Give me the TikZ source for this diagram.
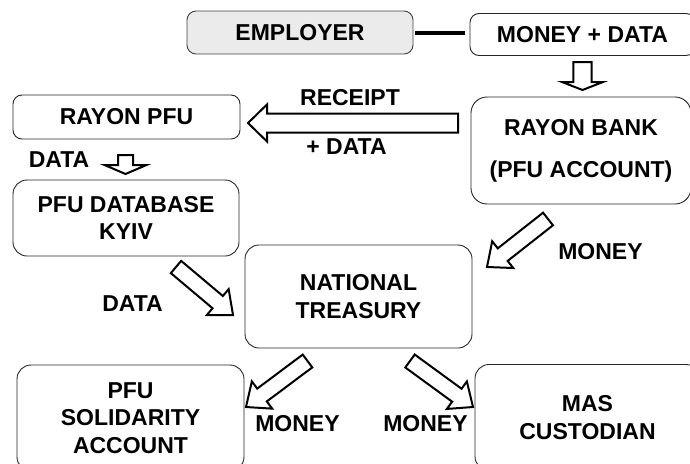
\documentclass[tikz,border=0pt]{standalone}
\usepackage{fontspec}
\newfontfamily\lab{Liberation Sans}
\usetikzlibrary{calc}
\newcommand{\hollowarr}[5]{%
  \coordinate (hbase) at ($(#2)!#5!(#1)$);
  \draw[hollow] ($(#1)!#3!90:(#2)$) -- ($(hbase)!#3!-90:(#1)$) -- ($(hbase)!#4!-90:(#1)$) -- (#2)
     -- ($(hbase)!#4!90:(#1)$) -- ($(hbase)!#3!90:(#1)$) -- ($(#1)!#3!-90:(#2)$) -- cycle;}
\begin{document}
\begin{tikzpicture}[x=1pt,y=-1pt,
  txt/.style={font=\lab\bfseries\fontsize{23}{27.5}\selectfont, inner sep=0pt, align=center},
  box/.style={txt, draw=black!85, line width=0.9pt, rounded corners=14pt},
  smallbox/.style={txt, draw=black!85, line width=0.9pt, rounded corners=9pt},
  hollow/.style={draw=black, fill=white, line width=2pt, line join=miter},
]
\useasboundingbox (0,0) rectangle (690,463);
% boxes
\node[smallbox, fill=black!8, draw=black!75, minimum width=226pt, minimum height=43pt] (emp) at (300,32.5) {EMPLOYER};
\node[smallbox, minimum width=225pt, minimum height=42pt] (md) at (582.5,34.5) {MONEY + DATA};
\node[box, rounded corners=16pt, minimum width=220pt, minimum height=107pt, font=\lab\bfseries\fontsize{23}{42}\selectfont] (rb) at (581,150.5) {RAYON BANK\\(PFU ACCOUNT)};
\node[smallbox, minimum width=227pt, minimum height=44pt] (rpfu) at (126.5,117) {RAYON PFU};
\node[box, minimum width=226pt, minimum height=76pt] (db) at (126,218) {PFU DATABASE\\KYIV};
\node[box, minimum width=227pt, minimum height=103pt] (nt) at (358.5,296.5) {NATIONAL\\TREASURY};
\node[box, minimum width=227pt, minimum height=106pt] (psa) at (130.5,418) {PFU\\SOLIDARITY\\ACCOUNT};
\node[box, minimum width=225pt, minimum height=106pt] (mas) at (587.5,417.5) {MAS\\CUSTODIAN};
% thick connector
\draw[line width=4pt, shorten <=2pt, shorten >=5pt] (emp.east) -- (emp.east -| md.west);
% labels
\node[txt] (lrec) at (350,97.5) {RECEIPT};
\node[txt] (lpd) at (346.5,146.5) {+ DATA};
\node[txt] (ld1) at (59,160) {DATA};
\node[txt] (ld2) at (132.5,303.5) {DATA};
\node[txt] (lm1) at (600.5,251.5) {MONEY};
\node[txt] (lm2) at (297.5,423.5) {MONEY};
\node[txt] (lm3) at (425.5,423.5) {MONEY};
% arrow end points
\coordinate (a1t) at (582.5,62);  \coordinate (a1h) at (582.5,90);
\coordinate (a2t) at (125.5,155); \coordinate (a2h) at (125.5,174);
\coordinate (a3t) at (458,123);   \coordinate (a3h) at (248,123);
\coordinate (a4t) at (176,267);   \coordinate (a4h) at (233,315);
\coordinate (a5t) at (548,219);   \coordinate (a5h) at (487,267);
\coordinate (a6t) at (307.5,361); \coordinate (a6h) at (246,407);
\coordinate (a7t) at (410,361);   \coordinate (a7h) at (473,407);
\hollowarr{a1t}{a1h}{9.2pt}{20.5pt}{8pt}
\hollowarr{a2t}{a2h}{7.5pt}{21pt}{9pt}
\hollowarr{a3t}{a3h}{9.5pt}{18.5pt}{19pt}
\hollowarr{a4t}{a4h}{8pt}{17pt}{20pt}
\hollowarr{a5t}{a5h}{8pt}{17pt}{20pt}
\hollowarr{a6t}{a6h}{8pt}{17pt}{20pt}
\hollowarr{a7t}{a7h}{8pt}{17pt}{20pt}
\end{tikzpicture}
\end{document}
